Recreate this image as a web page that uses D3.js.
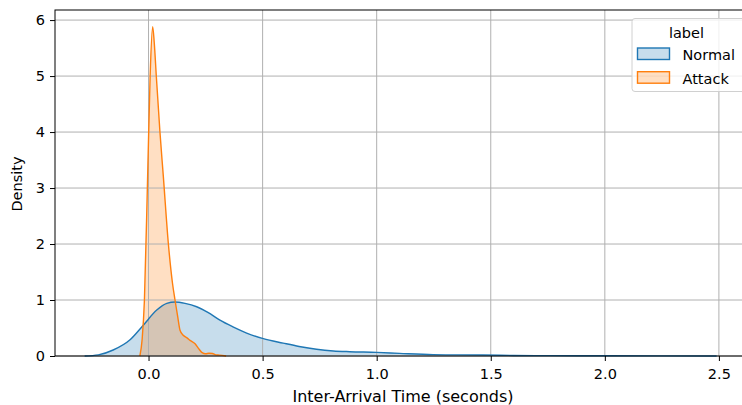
<!DOCTYPE html>
<html><head><meta charset="utf-8">
<script src="https://cdn.jsdelivr.net/npm/d3@7"></script>
<style>body{margin:0;background:#fff}svg{display:block}text{font-family:"DejaVu Sans",sans-serif;fill:#000}</style>
</head><body><svg id="c" width="742" height="405"></svg>
<script>
const seriesNames = ["Normal", "Attack"];
const normalX = [-0.28,-0.22,-0.155,-0.081,-0.023,0.036,0.08,0.116,0.16,0.211,0.26,0.313,0.37,0.43,0.503,0.59,0.66,0.736,0.81,0.882,1.0,1.10,1.247,1.35,1.465,1.6,1.76,2.0,2.25,2.49];
const normalY = [0,0.02,0.107,0.29,0.55,0.82,0.94,0.965,0.94,0.88,0.78,0.64,0.52,0.41,0.31,0.23,0.17,0.12,0.09,0.077,0.065,0.047,0.024,0.02,0.018,0.01,0.006,0.004,0.003,0.0];
const attackX = [-0.038,-0.028,-0.018,-0.004,0.007,0.018,0.025,0.034,0.05,0.065,0.087,0.105,0.116,0.128,0.138,0.152,0.17,0.182,0.204,0.222,0.235,0.25,0.265,0.28,0.295,0.31,0.34];
const attackY = [0,0.3,1.0,3.2,5.0,5.88,5.6,5.0,4.0,3.2,2.0,1.3,1.0,0.7,0.46,0.37,0.32,0.28,0.22,0.12,0.06,0.04,0.05,0.045,0.02,0.015,0];
const xTicks = [0,0.5,1.0,1.5,2.0,2.5];
const yTicks = [0,1,2,3,4,5,6];
const colors = ["#1f77b4", "#ff7f0e"];

const svg = d3.select("#c");
const L = 55, R = 744, T = 10, B = 356;
const x = d3.scaleLinear().domain([-0.41, 2.61]).range([L, R]);
const y = d3.scaleLinear().domain([0, 6.18]).range([B, T]);

const data = [
  normalX.map((v,i)=>[v, normalY[i]]),
  attackX.map((v,i)=>[v, attackY[i]])
];
const area = d3.area().x(d=>x(d[0])).y0(y(0)).y1(d=>y(d[1])).curve(d3.curveMonotoneX);
const line = d3.line().x(d=>x(d[0])).y(d=>y(d[1])).curve(d3.curveMonotoneX);

data.forEach((d,i)=>{
  svg.append("path").attr("d", area(d)).attr("fill", colors[i]).attr("fill-opacity", 0.25);
});

// grid
const g = svg.append("g");
xTicks.forEach(t=>g.append("line").attr("x1",x(t)).attr("x2",x(t)).attr("y1",T).attr("y2",B).attr("stroke","#b0b0b0").attr("stroke-width",1));
yTicks.forEach(t=>g.append("line").attr("x1",L).attr("x2",R).attr("y1",y(t)).attr("y2",y(t)).attr("stroke","#b0b0b0").attr("stroke-width",1));

data.forEach((d,i)=>{
  svg.append("path").attr("d", line(d)).attr("fill","none").attr("stroke", colors[i]).attr("stroke-width",1.4);
});

// axes
const xa = svg.append("g").attr("transform",`translate(0,${B})`)
  .call(d3.axisBottom(x).tickValues(xTicks).tickFormat(d3.format(".1f")).tickSize(5).tickPadding(8));
const ya = svg.append("g").attr("transform",`translate(${L},0)`)
  .call(d3.axisLeft(y).tickValues(yTicks).tickFormat(d3.format("d")).tickSize(5).tickPadding(5));
[xa,ya].forEach(a=>{a.select(".domain").remove(); a.selectAll("text").attr("font-size",14.5).attr("font-family","DejaVu Sans"); a.selectAll("line").attr("stroke","#000");});

// spines
svg.append("rect").attr("x",L).attr("y",T).attr("width",R-L).attr("height",B-T).attr("fill","none").attr("stroke","#000").attr("stroke-width",1);

svg.append("text").attr("x",403).attr("y",402).attr("text-anchor","middle").attr("font-size",16).text("Inter-Arrival Time (seconds)");
svg.append("text").attr("transform",`translate(22,184) rotate(-90)`).attr("text-anchor","middle").attr("font-size",14.5).text("Density");

// legend
const lg = svg.append("g");
lg.append("rect").attr("x",632).attr("y",18.5).attr("width",120).attr("height",73).attr("rx",3).attr("fill","#fff").attr("fill-opacity",0.8).attr("stroke","#d0d0d0");
lg.append("text").attr("x",686.5).attr("y",37.5).attr("text-anchor","middle").attr("font-size",14.5).text("label");
seriesNames.forEach((n,i)=>{
  const yy = 48 + i*23.7;
  lg.append("rect").attr("x",637.5).attr("y",yy).attr("width",32).attr("height",11.5).attr("fill",colors[i]).attr("fill-opacity",0.25).attr("stroke",colors[i]).attr("stroke-width",1.4);
  lg.append("text").attr("x",682.5).attr("y",yy+12).attr("font-size",14.5).text(n);
});
</script></body></html>
